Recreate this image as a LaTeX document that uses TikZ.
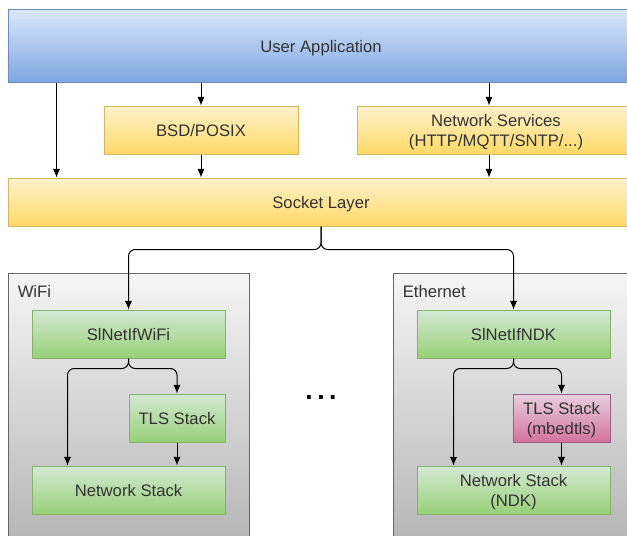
\documentclass[tikz,border=0pt]{standalone}
\usepackage{fontspec}
\setmainfont{Liberation Sans}
\usepackage{xcolor}
\usetikzlibrary{positioning, arrows.meta}
\definecolor{bluetop}{HTML}{DAE8FC}
\definecolor{bluebot}{HTML}{7EA6E0}
\definecolor{blueline}{HTML}{6C8EBF}
\definecolor{yeltop}{HTML}{FFF2CC}
\definecolor{yelbot}{HTML}{FFD966}
\definecolor{yelline}{HTML}{D6B656}
\definecolor{greentop}{HTML}{D5E8D4}
\definecolor{greenbot}{HTML}{97D077}
\definecolor{greenline}{HTML}{82B366}
\definecolor{pinktop}{HTML}{E6D0DE}
\definecolor{pinkbot}{HTML}{D5739D}
\definecolor{pinkline}{HTML}{996185}
\definecolor{graytop}{HTML}{F5F5F5}
\definecolor{graybot}{HTML}{B3B3B3}
\definecolor{grayline}{HTML}{666666}
\definecolor{txtdark}{HTML}{333333}
\tikzset{
    layer/.style={draw, line width=0.75pt, inner sep=0pt, align=center,
        minimum height=36pt, text depth=0pt, text=txtdark,
        font=\fontsize{12.5}{15}\selectfont},
    bluebox/.style={layer, top color=bluetop, bottom color=bluebot, draw=blueline},
    yelbox/.style={layer, top color=yeltop, bottom color=yelbot, draw=yelline},
    greenbox/.style={layer, top color=greentop, bottom color=greenbot, draw=greenline,
        minimum width=144.75pt},
    pinkbox/.style={layer, top color=pinktop, bottom color=pinkbot, draw=pinkline},
    ifcontainer/.style={layer, top color=graytop, bottom color=graybot, draw=grayline},
    iflabel/.style={inner sep=0pt, anchor=base west, text=txtdark,
        font=\fontsize{12.5}{15}\selectfont},
    link/.style={-{Latex[length=6.5pt,width=5.5pt]}, line width=0.75pt, black}
}

\begin{document}
\begin{tikzpicture}[x=0.75pt, y=-0.75pt]
    \useasboundingbox (0,0) rectangle (627,535);
    \clip (0,0) rectangle (627,535);

    % application and socket layers
    \node[bluebox, minimum width=469.5pt, minimum height=54pt] (userapp) at (321,46) {User Application};
    \node[yelbox, minimum width=145.5pt] (bsd) at (201,130) {BSD/POSIX};
    \node[yelbox, minimum width=208.5pt] (netsrv) at (496,130) {Network Services\\(HTTP/MQTT/SNTP/...)};
    \node[yelbox, minimum width=469.5pt] (socket) at (321,202) {Socket Layer};

    \coordinate (nsin) at ([xshift=-5.25pt]netsrv.north);
    \coordinate (nsout) at ([xshift=-5.25pt]netsrv.south);

    \draw[link] ([xshift=36.75pt]userapp.south west) -- ([xshift=36.75pt]socket.north west);
    \draw[link] (userapp.south -| bsd.north) -- (bsd.north);
    \draw[link] (bsd.south) -- (socket.north -| bsd.south);
    \draw[link] (userapp.south -| nsin) -- (nsin);
    \draw[link] (nsout) -- (socket.north -| nsout);

    % network interfaces
    \node[ifcontainer, minimum width=180.75pt, minimum height=210pt] (wifi) at (128.5,413) {};
    \node[iflabel] (wifilbl) at ([xshift=7.5pt, yshift=-18.75pt]wifi.north west) {WiFi};
    \node[ifcontainer, minimum width=195pt, minimum height=210pt] (eth) at (523,413) {};
    \node[iflabel] (ethlbl) at ([xshift=7.5pt, yshift=-18.75pt]eth.north west) {Ethernet};

    \node[greenbox] (ifwifi) at (128.5,334) {SlNetIfWiFi};
    \node[greenbox, minimum width=72pt] (tlswifi) at (177,418) {TLS Stack};
    \node[greenbox] (netwifi) at (128.5,490) {Network Stack};

    \node[greenbox] (ifndk) at (513.5,334) {SlNetIfNDK};
    \node[pinkbox, minimum width=72.75pt] (tlsndk) at (561.5,418) {TLS Stack\\(mbedtls)};
    \node[greenbox] (netndk) at (513.5,490) {Network Stack\\(NDK)};

    \node[text=black, font=\fontsize{20}{22}\bfseries] (more) at (321,398) {.\,.\,.};

    \draw[link, rounded corners=5pt] (socket.south) -- ++(0,23) -| (ifwifi.north);
    \draw[link, rounded corners=5pt] (socket.south) -- ++(0,23) -| (ifndk.north);

    \draw[link, rounded corners=5pt] (ifwifi.south) -- ++(0,10) -| ([xshift=27pt]netwifi.north west);
    \draw[link, rounded corners=5pt] (ifwifi.south) -- ++(0,10) -| (tlswifi.north);
    \draw[link] (tlswifi.south) -- (netwifi.north -| tlswifi.south);

    \draw[link, rounded corners=5pt] (ifndk.south) -- ++(0,10) -| ([xshift=27.75pt]netndk.north west);
    \draw[link, rounded corners=5pt] (ifndk.south) -- ++(0,10) -| (tlsndk.north);
    \draw[link] (tlsndk.south) -- (netndk.north -| tlsndk.south);
\end{tikzpicture}
\end{document}
